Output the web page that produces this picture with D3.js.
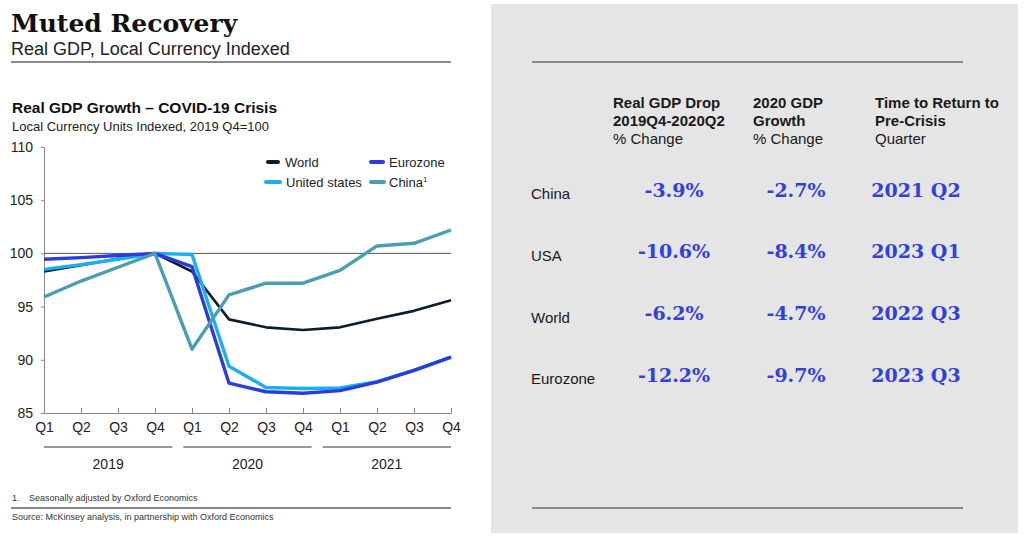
<!DOCTYPE html>
<html><head><meta charset="utf-8">
<script src="https://cdn.jsdelivr.net/npm/d3@7"></script>
<style>
html,body{margin:0;padding:0;background:#fff;}
svg{display:block;}
text{font-family:"Liberation Sans",Arial,sans-serif;}
</style></head>
<body>
<svg id="c" width="1024" height="545"></svg>
<script>
// ---------- DATA ----------
const quarters = ["Q1","Q2","Q3","Q4","Q1","Q2","Q3","Q4","Q1","Q2","Q3","Q4"];
const years = ["2019","2020","2021"];
const yTicks = [85, 90, 95, 100, 105, 110];
const world    = [98.3, 98.9, 99.5, 100, 98.3, 93.8, 93.05, 92.8, 93.05, 93.85, 94.6, 95.6];
const eurozone = [99.45, 99.6, 99.8, 100, 98.75, 87.8, 87.0, 86.85, 87.1, 87.9, 89.0, 90.25];
const usa      = [98.5, 98.95, 99.45, 100, 99.9, 89.4, 87.4, 87.3, 87.35, 87.95, 89.0, 90.25];
const china    = [95.9, 97.4, 98.7, 100, 91.0, 96.1, 97.2, 97.2, 98.4, 100.7, 100.95, 102.2];
const seriesNames = ["World","Eurozone","United states","China"];
const seriesColors = ["#0c1e2c","#2a3be0","#1ab0f0","#4a9db2"];

const tableRows = ["China","USA","World","Eurozone"];
const gdpDrop = ["-3.9%","-10.6%","-6.2%","-12.2%"];
const gdpGrowth2020 = ["-2.7%","-8.4%","-4.7%","-9.7%"];
const returnQuarter = ["2021 Q2","2023 Q1","2022 Q3","2023 Q3"];
const colHeaders = [
  ["Real GDP Drop","2019Q4-2020Q2","% Change"],
  ["2020 GDP","Growth","% Change"],
  ["Time to Return to","Pre-Crisis","Quarter"]
];

// ---------- DRAW ----------
const svg = d3.select("#c");
svg.append("rect").attr("width",1024).attr("height",545).attr("fill","#fff");

// Titles
svg.append("text").attr("x",11).attr("y",32)
  .style("font-family","'DejaVu Serif',serif").style("font-weight","bold").style("font-size","25px")
  .attr("fill","#111").text("Muted Recovery");
svg.append("text").attr("x",11).attr("y",55).style("font-size","18px").attr("fill","#222")
  .text("Real GDP, Local Currency Indexed");
svg.append("line").attr("x1",11).attr("x2",451).attr("y1",62).attr("y2",62)
  .attr("stroke","#8a8a8a").attr("stroke-width",2);

svg.append("text").attr("x",12).attr("y",113).style("font-size","15.5px").style("font-weight","bold")
  .attr("fill","#111").text("Real GDP Growth \u2013 COVID-19 Crisis");
svg.append("text").attr("x",12).attr("y",131).style("font-size","13px").attr("fill","#222")
  .text("Local Currency Units Indexed, 2019 Q4=100");

// Scales
const x = d3.scalePoint().domain(d3.range(quarters.length)).range([44,451]);
const y = d3.scaleLinear().domain([85,110]).range([413,147]);

// Y axis
const yAxis = svg.append("g").attr("transform","translate(44,0)")
  .call(d3.axisLeft(y).tickValues(yTicks).tickSize(3).tickPadding(8));
yAxis.select(".domain").attr("stroke","#888");
yAxis.selectAll(".tick line").attr("stroke","#888");
yAxis.selectAll("text").style("font-size","14px").attr("fill","#222")
  .style("font-family","'Liberation Sans',Arial,sans-serif");

// X axis
const xAxis = svg.append("g").attr("transform","translate(0,413)")
  .call(d3.axisBottom(x).tickSizeInner(-5).tickSizeOuter(0).tickPadding(9).tickFormat(i=>quarters[i]));
xAxis.select(".domain").attr("stroke","#888");
xAxis.selectAll(".tick line").attr("stroke","#888");
xAxis.selectAll("text").style("font-size","14px").attr("fill","#222")
  .style("font-family","'Liberation Sans',Arial,sans-serif");

// Year brackets: split the axis span into equal groups with a small gap
const [r0, r1] = x.range();
const gap = 11;
const bw = (r1 - r0 - gap*(years.length-1)) / years.length;
years.forEach((yr,i)=>{
  const x1 = r0 + i*(bw+gap), x2 = x1 + bw;
  svg.append("line").attr("x1",x1).attr("x2",x2).attr("y1",447).attr("y2",447)
    .attr("stroke","#999").attr("stroke-width",2);
  svg.append("text").attr("x",(x1+x2)/2).attr("y",469).attr("text-anchor","middle")
    .style("font-size","14px").attr("fill","#222").text(yr);
});

// 100 reference line
svg.append("line").attr("x1",44).attr("x2",451).attr("y1",y(100)).attr("y2",y(100))
  .attr("stroke","#555").attr("stroke-width",1);

// Lines
const lineGen = d3.line().x((d,i)=>x(i)).y(d=>y(d));
const seriesData = [world, usa, eurozone, china];
const seriesIdx = [0, 2, 1, 3];
seriesData.forEach((s,k)=>{
  const idx = seriesIdx[k];
  svg.append("path").datum(s).attr("d",lineGen).attr("fill","none")
    .attr("stroke",seriesColors[idx]).attr("stroke-width", idx===0 ? 2.6 : 3.4)
    .attr("stroke-linejoin","round");
});

// Legend
const legendPos = [
  {mx1:268,mx2:278,tx:285,y:162},
  {mx1:371,mx2:383,tx:389,y:162},
  {mx1:266,mx2:280,tx:286,y:182},
  {mx1:371,mx2:384,tx:389,y:182}
];
seriesNames.forEach((n,i)=>{
  const p = legendPos[i];
  svg.append("line").attr("x1",p.mx1).attr("x2",p.mx2).attr("y1",p.y).attr("y2",p.y)
    .attr("stroke",seriesColors[i]).attr("stroke-width",4).attr("stroke-linecap","round");
  const t = svg.append("text").attr("x",p.tx).attr("y",p.y+4.5).style("font-size","13px").attr("fill","#222").text(n);
  if(n==="China") t.append("tspan").attr("dy",-5).style("font-size","8px").text("1");
});

// Footnotes
svg.append("text").attr("x",12).attr("y",501).style("font-size","9px").attr("fill","#333").text("1.");
svg.append("text").attr("x",29).attr("y",501).style("font-size","9px").attr("fill","#333")
  .text("Seasonally adjusted by Oxford Economics");
svg.append("line").attr("x1",11).attr("x2",451).attr("y1",508).attr("y2",508)
  .attr("stroke","#888").attr("stroke-width",2);
svg.append("text").attr("x",12).attr("y",520).style("font-size","9px").attr("fill","#333")
  .text("Source: McKinsey analysis, in partnership with Oxford Economics");

// ---------- Right panel ----------
svg.append("rect").attr("x",491).attr("y",4).attr("width",527).attr("height",529).attr("fill","#e5e5e5");
[62,508].forEach(yy=>{
  svg.append("line").attr("x1",532).attr("x2",963).attr("y1",yy).attr("y2",yy)
    .attr("stroke","#8a8a8a").attr("stroke-width",2);
});

const colX = [613, 753, 875];
const colCenter = [674, 796, 916];
colHeaders.forEach((h,c)=>{
  h.forEach((line,j)=>{
    svg.append("text").attr("x",colX[c]).attr("y",108+j*18.2)
      .style("font-size","15px").style("font-weight", j<2 ? "bold" : "normal")
      .attr("fill","#1a1a1a").text(line);
  });
});

const rowY = d3.scalePoint().domain(tableRows).range([199,384.3]);
const valCols = [gdpDrop, gdpGrowth2020, returnQuarter];
tableRows.forEach((r,i)=>{
  svg.append("text").attr("x",531).attr("y",rowY(r)).style("font-size","15px").attr("fill","#1a1a1a").text(r);
  valCols.forEach((col,c)=>{
    svg.append("text").attr("x",colCenter[c]).attr("y",rowY(r)-2.5).attr("text-anchor","middle")
      .style("font-family","'DejaVu Serif',serif").style("font-weight","bold").style("font-size","19px")
      .attr("fill","#3040e0").text(col[i]);
  });
});
</script>
</body></html>
